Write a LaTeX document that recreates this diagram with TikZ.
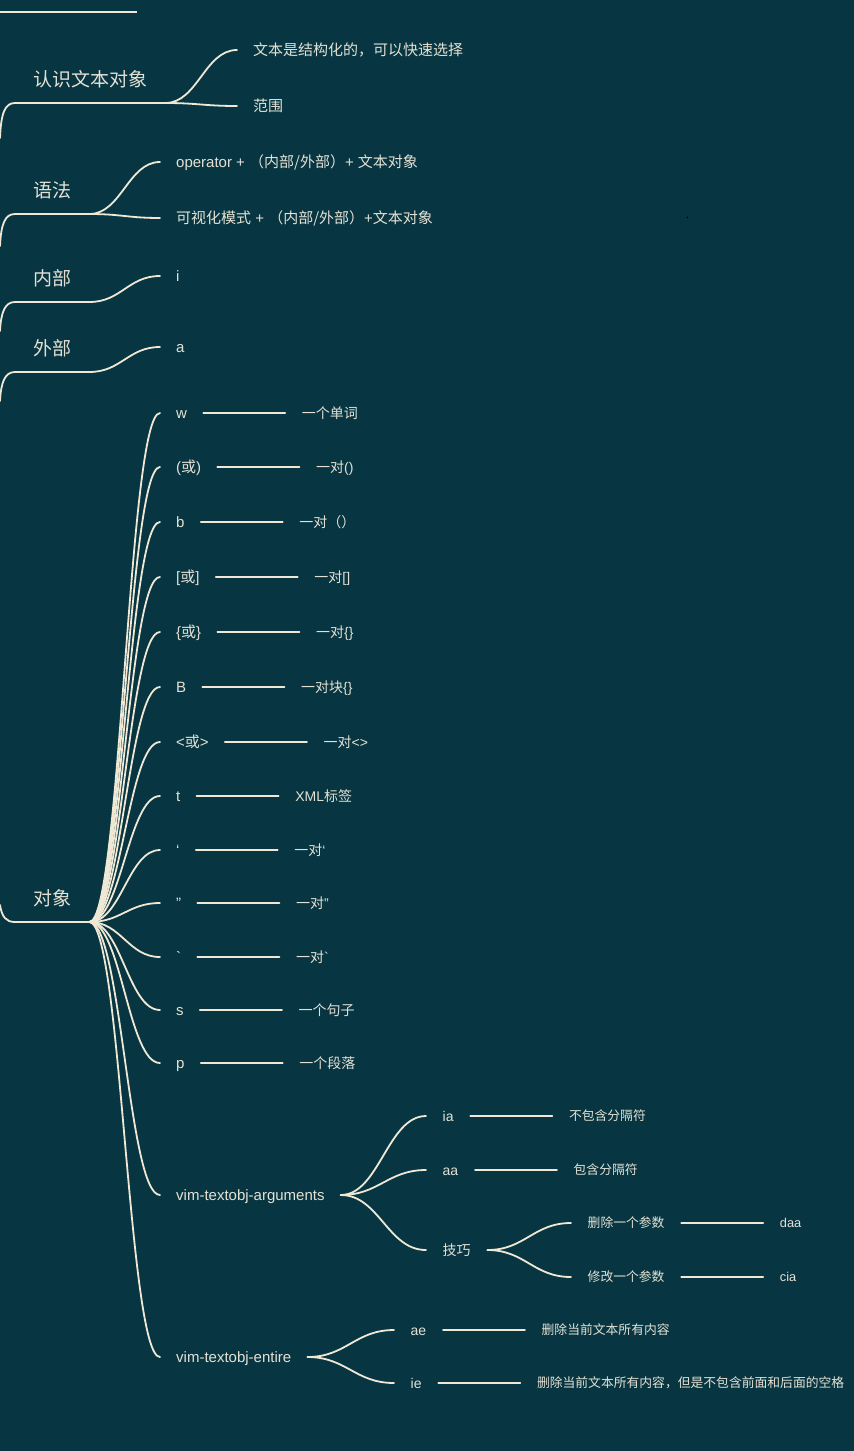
\documentclass[tikz,border=0pt]{standalone}
\usepackage{fontspec}
\setmainfont{Liberation Sans}
\newfontfamily\cjk{Noto Sans CJK SC}
\usetikzlibrary{calc,positioning}
\definecolor{bg}{HTML}{073642}
\definecolor{ln}{HTML}{EEE8D5}
\definecolor{tx}{HTML}{E4E1D4}
\newcommand\brc[2]{\draw[conn] let \p1=(#1), \p2=(#2) in (\p1) .. controls ({\x1+0.45*(\x2-\x1)},\y1) and ({\x2-0.45*(\x2-\x1)},\y2) .. (\p2);}
\begin{document}
\begin{tikzpicture}[x=1pt,y=-1pt,
  conn/.style={draw=ln, line width=1.8pt, line cap=round},
  lvA/.style={text=tx, font=\fontsize{19}{22}\selectfont\cjk, inner xsep=18pt, inner ysep=0pt, text height=14.4pt, text depth=0pt, anchor=west},
  lvB/.style={text=tx, font=\fontsize{15}{18}\selectfont, inner xsep=16pt, inner ysep=0pt, text height=11.4pt, text depth=0pt, anchor=west},
  lvC/.style={text=tx, font=\fontsize{14}{17}\selectfont, inner xsep=16.5pt, inner ysep=0pt, text height=10.6pt, text depth=0pt, anchor=west},
  lvD/.style={text=tx, font=\fontsize{12.8}{16}\selectfont, inner xsep=16.5pt, inner ysep=0pt, text height=9.7pt, text depth=0pt, anchor=west}]
\fill[bg] (0,0) rectangle (854,1451);
\useasboundingbox (0,0) rectangle (854,1451);

% top line
\coordinate (t0) at (0,12);
\coordinate (t1) at (78,12);
\coordinate (t2) at (137,12);
\draw[conn, line cap=butt] (t0) -- (t1) -- (t2);

% level 1
\node[lvA] (k1) at (15,79) {认识文本对象};
\node[lvA] (k2) at (15,190) {语法};
\node[lvA] (k3) at (15,278) {内部};
\node[lvA] (k4) at (15,348) {外部};
\node[lvA] (k5) at (15,898) {对象};

\foreach \k in {k1,k2,k3,k4,k5}{
  \draw[conn] ([yshift=-24pt]\k.west) -- ([yshift=-24pt]\k.east);
}

% stubs from the root (off the left edge)
\coordinate (s1) at (0,138);
\coordinate (s2) at (0,246);
\coordinate (s3) at (0,331);
\coordinate (s4) at (0,401);
\coordinate (s5) at (0,905);
\draw[conn] (s1) .. controls (1,113) and (5,103) .. ([yshift=-24pt]k1.west);
\draw[conn] (s2) .. controls (1,224) and (5,214) .. ([yshift=-24pt]k2.west);
\draw[conn] (s3) .. controls (1,312) and (5,302) .. ([yshift=-24pt]k3.west);
\draw[conn] (s4) .. controls (1,382) and (5,372) .. ([yshift=-24pt]k4.west);
\draw[conn] (s5) .. controls (2,917) and (6,922) .. ([yshift=-24pt]k5.west);

% children of level 1
\node[lvB] (k1a) at (237,50) {\cjk 文本是结构化的，可以快速选择};
\node[lvB] (k1b) at (237,106) {\cjk 范围};
\node[lvB] (k2a) at (160,162) {operator + {\cjk （内部/外部）}+ {\cjk 文本对象}};
\node[lvB] (k2b) at (160,218) {{\cjk 可视化模式} + {\cjk （内部/外部）}+{\cjk 文本对象}};
\node[lvB] (k3a) at (160,276) {i};
\node[lvB] (k4a) at (160,347) {a};

\brc{[yshift=-24pt]k1.east}{k1a.west}
\brc{[yshift=-24pt]k1.east}{k1b.west}
\brc{[yshift=-24pt]k2.east}{k2a.west}
\brc{[yshift=-24pt]k2.east}{k2b.west}
\brc{[yshift=-24pt]k3.east}{k3a.west}
\brc{[yshift=-24pt]k4.east}{k4a.west}

% children of 对象
\node[lvB] (o1) at (160,413) {w};
\node[lvB] (o2) at (160,467) {({\cjk 或})};
\node[lvB] (o3) at (160,522) {b};
\node[lvB] (o4) at (160,577) {[{\cjk 或}]};
\node[lvB] (o5) at (160,632) {\{{\cjk 或}\}};
\node[lvB] (o6) at (160,687) {B};
\node[lvB] (o7) at (160,742) {<{\cjk 或}>};
\node[lvB] (o8) at (160,796) {t};
\node[lvB] (o9) at (160,850) {‘};
\node[lvB] (o10) at (160,903) {”};
\node[lvB] (o11) at (160,957) {\textasciigrave};
\node[lvB] (o12) at (160,1010) {s};
\node[lvB] (o13) at (160,1063) {p};
\node[lvB] (o14) at (160,1195) {vim-textobj-arguments};
\node[lvB] (o15) at (160,1357) {vim-textobj-entire};

\node[lvC, right=82pt of o1] (l1) {\cjk 一个单词};
\node[lvC, right=82pt of o2] (l2) {{\cjk 一对}()};
\node[lvC, right=82pt of o3] (l3) {\cjk 一对（）};
\node[lvC, right=82pt of o4] (l4) {{\cjk 一对}[]};
\node[lvC, right=82pt of o5] (l5) {{\cjk 一对}\{\}};
\node[lvC, right=82pt of o6] (l6) {{\cjk 一对块}\{\}};
\node[lvC, right=82pt of o7] (l7) {{\cjk 一对}<>};
\node[lvC, right=82pt of o8] (l8) {XML{\cjk 标签}};
\node[lvC, right=82pt of o9] (l9) {{\cjk 一对}‘};
\node[lvC, right=82pt of o10] (l10) {{\cjk 一对}”};
\node[lvC, right=82pt of o11] (l11) {{\cjk 一对}\textasciigrave};
\node[lvC, right=82pt of o12] (l12) {\cjk 一个句子};
\node[lvC, right=82pt of o13] (l13) {\cjk 一个段落};

\foreach \i in {1,...,15}{
  \brc{[yshift=-24pt]k5.east}{o\i.west}
}
\foreach \i in {1,...,13}{
  \draw[conn] (o\i) -- (l\i);
}

% vim-textobj-arguments
\node[lvC] (ia) at (426,1116) {ia};
\node[lvC] (aa) at (426,1170) {aa};
\node[lvC] (jq) at (426,1250) {\cjk 技巧};
\node[lvD, right=82pt of ia] (ial) {\cjk 不包含分隔符};
\node[lvD, right=82pt of aa] (aal) {\cjk 包含分隔符};
\node[lvD] (sc) at (571,1223) {\cjk 删除一个参数};
\node[lvD] (xg) at (571,1277) {\cjk 修改一个参数};
\node[lvD, right=82pt of sc] (scl) {daa};
\node[lvD, right=82pt of xg] (xgl) {cia};
\brc{o14.east}{ia.west}
\brc{o14.east}{aa.west}
\brc{o14.east}{jq.west}
\brc{jq.east}{sc.west}
\brc{jq.east}{xg.west}
\draw[conn] (ia) -- (ial);
\draw[conn] (aa) -- (aal);
\draw[conn] (sc) -- (scl);
\draw[conn] (xg) -- (xgl);

% vim-textobj-entire
\node[lvC] (ae) at (394,1330) {ae};
\node[lvC] (ie) at (394,1383) {ie};
\node[lvD, right=82pt of ae] (ael) {\cjk 删除当前文本所有内容};
\node[lvD, right=82pt of ie] (iel) {\cjk 删除当前文本所有内容，但是不包含前面和后面的空格};
\brc{o15.east}{ae.west}
\brc{o15.east}{ie.west}
\draw[conn] (ae) -- (ael);
\draw[conn] (ie) -- (iel);

% speck
\fill[black] (687.5,217.5) circle (0.8pt);
\end{tikzpicture}
\end{document}
